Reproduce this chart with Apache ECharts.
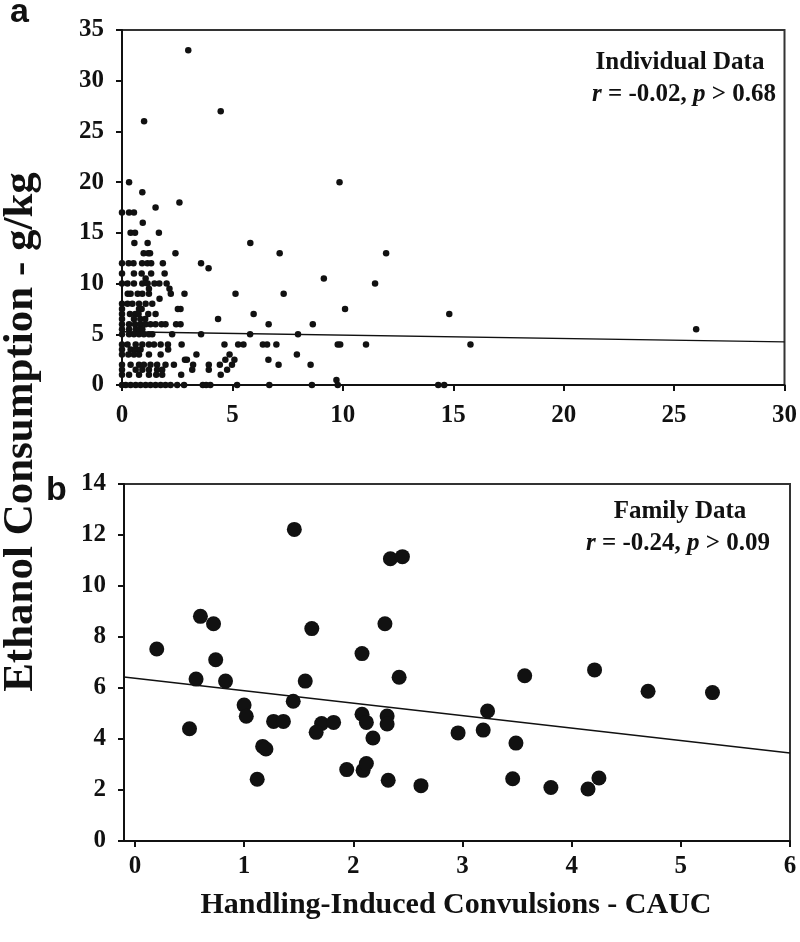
<!DOCTYPE html>
<html><head><meta charset="utf-8">
<script src="https://cdn.jsdelivr.net/npm/echarts@6/dist/echarts.min.js"></script>
<style>html,body{margin:0;padding:0;background:#fff}#c{width:800px;height:942px}</style>
</head><body><div id="c"></div>
<script>
// Panel a: individual data (x = CAUC, y = g/kg)
var indX = [3.0,4.47,1.0,0.32,9.85,0.92,2.6,1.52,
 0,0.32,0.54, 0.94, 0.39,0.59,1.67, 0.56,1.16,5.81,
 0.98,1.19,1.27,2.42,7.14,11.96,
 0,0.3,0.52,0.91,1.15,1.32,1.85,3.58, 3.92,
 0,0.54,0.89,1.32,1.93, 1.07,9.14,
 0,0.25,0.54,0.92,1.16,1.47,1.69,2.02,11.46,
 1.22,2.15,
 0.26,0.39,0.71,0.92,1.22,2.21,2.83,5.14,7.32, 1.70,
 0,0.25,0.47,0.77,1.07,1.37,
 0,0.77,0.89,2.53,2.65,10.1,
 0,0.36,0.6,0.75,1.19,1.52,5.96,14.82,
 0,0.54,0.83,1.05,4.35,
 0,0.32,0.59,0.84,1.07,1.29,1.52,1.79,1.97,2.45,2.65,6.64,8.64,
 0,0.32,0.62,0.77,0.92,26.0,
 0,0.32,0.54,0.77,0.99,1.22,1.37,2.27,3.58,5.8,7.97,
 0,0.25,0.62,0.92,1.22,1.45,1.75,2.08,2.7,4.64,5.26,5.5,6.38,6.57,6.99,9.77,9.88,11.05,15.78,
 0,0.39,0.62,0.84,2.09,
 0,0.29,0.54,0.77,1.22,1.75,3.37,4.87,7.92,
 2.85,2.94,4.68,5.09,6.63,
 0,0.39,0.77,0.99,1.29,1.59,1.97,2.35,3.22,3.93,4.43,4.98,7.09,8.54,
 0,0.62,0.92,1.22,1.59,1.82,3.18,3.93,4.76,
 0,0.32,0.77,1.22,1.55,1.82,2.68,4.47,
 9.71,
 0,0.17,0.39,0.62,0.84,1.07,1.29,1.52,1.75,1.97,2.2,2.5,2.81,3.66,3.81,4.0,5.21,6.67,8.6,9.77,14.32,14.59];
var indY = [33,27,26,20,20,19,18,17.5,
 17,17,17, 16, 15,15,15, 14,14,14,
 13,13,13,13,13,13,
 12,12,12,12,12,12,12,12, 11.5,
 11,11,11,11,11, 10.5,10.5,
 10,10,10,10,10,10,10,10,10,
 9.5,9.5,
 9,9,9,9,9,9,9,9,9, 8.5,
 8,8,8,8,8,8,
 7.5,7.5,7.5,7.5,7.5,7.5,
 7,7,7,7,7,7,7,7,
 6.5,6.5,6.5,6.5,6.5,
 6,6,6,6,6,6,6,6,6,6,6,6,6,
 5.5,5.5,5.5,5.5,5.5,5.5,
 5,5,5,5,5,5,5,5,5,5,5,
 4,4,4,4,4,4,4,4,4,4,4,4,4,4,4,4,4,4,4,
 3.5,3.5,3.5,3.5,3.5,
 3,3,3,3,3,3,3,3,3,
 2.5,2.5,2.5,2.5,2.5,
 2,2,2,2,2,2,2,2,2,2,2,2,2,2,
 1.5,1.5,1.5,1.5,1.5,1.5,1.5,1.5,1.5,
 1,1,1,1,1,1,1,1,
 0.5,
 0,0,0,0,0,0,0,0,0,0,0,0,0,0,0,0,0,0,0,0,0,0];
var indFitX = [0, 30];
var indFitY = [5.25, 4.25];

// Panel b: family data
var famX = [0.20,1.46,2.34,2.45,0.60,0.72,1.62,2.29,0.74,2.08,0.56,0.83,1.56,2.42,1.00,1.02,0.50,1.45,1.27,1.36,1.71,1.66,1.82,2.08,2.12,2.31,2.31,2.18,1.17,1.20,1.12,1.94,2.09,2.12,2.32,2.62,3.57,4.21,4.70,5.29,3.23,2.96,3.19,3.49,3.46,3.81,4.15,4.25];
var famY = [7.53,12.22,11.07,11.15,8.81,8.52,8.33,8.52,7.11,7.35,6.35,6.27,6.27,6.42,5.33,4.89,4.40,5.48,4.69,4.69,4.61,4.26,4.65,4.97,4.65,4.90,4.59,4.04,3.71,3.61,2.42,2.80,2.77,3.04,2.38,2.17,6.48,6.71,5.87,5.82,5.10,4.24,4.35,3.84,2.44,2.10,2.04,2.47];
var famFitX = [-0.1, 6];
var famFitY = [6.43, 3.45];

var xTicksA = [0,5,10,15,20,25,30];
var yTicksA = [0,5,10,15,20,25,30,35];
var xTicksB = [0,1,2,3,4,5,6];
var yTicksB = [0,2,4,6,8,10,12,14];

function pairs(xs, ys){ return xs.map(function(x,i){return [x, ys[i]];}); }

var serif = 'Liberation Serif';
var lblStyle = {color:'#111', fontFamily:serif, fontWeight:'bold', fontSize:25};
function xAx(idx, min, max, ticks, margin){
  return {type:'value', gridIndex:idx, min:min, max:max,
    axisLine:{show:true, onZero:false, lineStyle:{color:'#111', width:2}},
    axisTick:{show:true, inside:false, length:6, lineStyle:{color:'#111', width:2}, customValues:ticks},
    axisLabel:Object.assign({margin:margin, customValues:ticks}, lblStyle),
    splitLine:{show:false}};
}
function yAx(idx, min, max, ticks){
  return {type:'value', gridIndex:idx, min:min, max:max,
    axisLine:{show:true, onZero:false, lineStyle:{color:'#111', width:2}},
    axisTick:{show:true, inside:false, length:6, lineStyle:{color:'#111', width:2}, customValues:ticks},
    axisLabel:Object.assign({margin:18, customValues:ticks}, lblStyle),
    splitLine:{show:false}};
}

var chart = echarts.init(document.getElementById('c'), null, {renderer:'canvas'});
chart.setOption({
  animation:false,
  backgroundColor:'#fff',
  grid:[
    {left:122, top:30, width:665, height:355, show:true, borderColor:'#333', borderWidth:2, backgroundColor:'transparent'},
    {left:124, top:484, width:666, height:357, show:true, borderColor:'#333', borderWidth:2, backgroundColor:'transparent'}
  ],
  xAxis:[xAx(0,0,30,xTicksA,18), xAx(1,-0.1,6,xTicksB,13)],
  yAxis:[yAx(0,0,35,yTicksA), yAx(1,0,14,yTicksB)],
  series:[
    {type:'line', xAxisIndex:0, yAxisIndex:0, data:pairs(indFitX, indFitY), symbol:'none', lineStyle:{color:'#111', width:1.3}, z:1},
    {type:'scatter', xAxisIndex:0, yAxisIndex:0, data:pairs(indX, indY), symbolSize:6.5, itemStyle:{color:'#111', opacity:1}, z:2},
    {type:'line', xAxisIndex:1, yAxisIndex:1, data:pairs(famFitX, famFitY), symbol:'none', lineStyle:{color:'#111', width:1.5}, z:1},
    {type:'scatter', xAxisIndex:1, yAxisIndex:1, data:pairs(famX, famY), symbolSize:15, itemStyle:{color:'#111', opacity:1}, z:2}
  ],
  graphic:[
    {type:'text', left:10, top:-4, style:{text:'a', font:'bold 34px "Liberation Sans"', fill:'#111'}},
    {type:'text', left:46, top:474, style:{text:'b', font:'bold 34px "Liberation Sans"', fill:'#111'}},
    {type:'text', x:680, y:63, style:{text:'Individual Data', font:'bold 25px "Liberation Serif"', fill:'#111', align:'center', verticalAlign:'middle'}},
    {type:'text', x:684, y:95, style:{text:'{i|r} = -0.02, {i|p} > 0.68', font:'bold 25px "Liberation Serif"', fill:'#111', align:'center', verticalAlign:'middle',
      rich:{i:{font:'italic bold 25px "Liberation Serif"', fill:'#111'}}}},
    {type:'text', x:680, y:512, style:{text:'Family Data', font:'bold 25px "Liberation Serif"', fill:'#111', align:'center', verticalAlign:'middle'}},
    {type:'text', x:678, y:544, style:{text:'{i|r} = -0.24, {i|p} > 0.09', font:'bold 25px "Liberation Serif"', fill:'#111', align:'center', verticalAlign:'middle',
      rich:{i:{font:'italic bold 25px "Liberation Serif"', fill:'#111'}}}},
    {type:'text', x:21, y:432, rotation:Math.PI/2, style:{text:'Ethanol Consumption - g/kg', font:'bold 43px "Liberation Serif"', fill:'#111', align:'center', verticalAlign:'middle'}},
    {type:'text', x:456, y:905, style:{text:'Handling-Induced Convulsions - CAUC', font:'bold 30px "Liberation Serif"', fill:'#111', align:'center', verticalAlign:'middle'}}
  ]
});
</script></body></html>
